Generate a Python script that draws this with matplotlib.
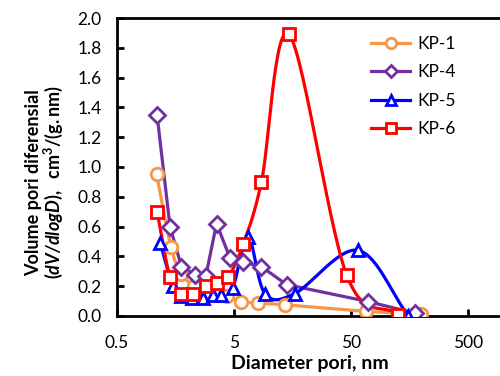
import numpy as np
import matplotlib
matplotlib.use("Agg")
import matplotlib.pyplot as plt
from matplotlib.ticker import FixedLocator, FormatStrFormatter

plt.rcParams['font.family'] = ['Lato', 'DejaVu Sans']
plt.rcParams['mathtext.fontset'] = 'custom'
plt.rcParams['mathtext.rm'] = 'Lato:bold'
plt.rcParams['mathtext.bf'] = 'Lato:bold'
plt.rcParams['mathtext.it'] = 'Lato:bold:italic'
plt.rcParams['mathtext.bfit'] = 'Lato:bold:italic'

# pore diameter (nm) and dV/dlogD values
kp1_d = [1.09, 1.45, 1.78, 2.3, 2.9, 3.6, 4.33, 5.8, 8.0, 13.8, 68, 200]
kp1_v = [0.95, 0.46, 0.28, 0.20, 0.16, 0.14, 0.13, 0.096, 0.085, 0.074, 0.03, 0.01]

kp4_d = [1.10, 1.42, 1.78, 2.32, 2.88, 3.55, 4.62, 6.0, 8.6, 14.1, 70, 177]
kp4_v = [1.35, 0.60, 0.33, 0.275, 0.27, 0.62, 0.39, 0.36, 0.33, 0.21, 0.096, 0.018]

kp5_d = [1.17, 1.5, 1.78, 2.2, 2.7, 3.3, 3.9, 4.9, 6.6, 9.2, 16.6, 57.5, 155]
kp5_v = [0.49, 0.20, 0.13, 0.12, 0.12, 0.14, 0.14, 0.19, 0.53, 0.15, 0.15, 0.44, 0.0]

kp6_d = [1.10, 1.42, 1.78, 2.24, 2.88, 3.6, 4.47, 6.0, 8.6, 14.8, 46, 127]
kp6_v = [0.70, 0.26, 0.15, 0.15, 0.20, 0.22, 0.26, 0.48, 0.90, 1.89, 0.275, 0.007]

labels = ['KP-1', 'KP-4', 'KP-5', 'KP-6']
colors = ['#F79646', '#7030A0', '#0000FF', '#FF0000']
markers = ['o', 'D', '^', 's']
smooth = [True, False, True, True]


def smooth_curve(d, v, n=30):
    # Catmull-Rom through the points, in log(d) space like an Excel smoothed line
    lx = np.log10(d)
    y = np.array(v, dtype=float)
    px = np.concatenate([[2 * lx[0] - lx[1]], lx, [2 * lx[-1] - lx[-2]]])
    py = np.concatenate([[2 * y[0] - y[1]], y, [2 * y[-1] - y[-2]]])
    xs, ys = [], []
    t = np.linspace(0, 1, n)
    for i in range(1, len(px) - 2):
        for arr, out in ((px, xs), (py, ys)):
            p0, p1, p2, p3 = arr[i - 1], arr[i], arr[i + 1], arr[i + 2]
            out.extend(0.5 * ((2 * p1) + (-p0 + p2) * t
                              + (2 * p0 - 5 * p1 + 4 * p2 - p3) * t ** 2
                              + (-p0 + 3 * p1 - 3 * p2 + p3) * t ** 3))
    return 10 ** np.array(xs), np.array(ys)


fig = plt.figure(figsize=(5.0, 3.76), dpi=100)
ax = fig.add_axes([0.234, 0.16, 0.772, 0.792])

series = [(kp1_d, kp1_v), (kp4_d, kp4_v), (kp5_d, kp5_v), (kp6_d, kp6_v)]
for (d, v), lab, c, m, sm in zip(series, labels, colors, markers, smooth):
    if sm:
        cx, cy = smooth_curve(d, v)
    else:
        cx, cy = d, v
    ms = 8 if m == 'D' else 9
    ax.plot(cx, cy, color=c, lw=2.3, zorder=2)
    ax.plot(d, v, ls='none', marker=m, ms=ms, mfc='white', mec=c, mew=2, zorder=3)
    ax.plot([], [], color=c, lw=2.3, marker=m, ms=ms - 1.5, mfc='white', mec=c,
            mew=2, label=lab)

ax.set_xscale('log')
ax.set_xlim(0.5, 1000)
ax.set_ylim(0, 2.0)
ax.xaxis.set_major_locator(FixedLocator([0.5, 5, 50, 500]))
ax.xaxis.set_minor_locator(FixedLocator([]))
ax.set_xticklabels(['0.5', '5', '50', '500'])
ax.set_yticks(np.arange(0, 2.01, 0.2))
ax.yaxis.set_major_formatter(FormatStrFormatter('%.1f'))
ax.tick_params(direction='in', length=5, width=2, labelsize=12.5)
ax.tick_params(axis='x', pad=14)
ax.tick_params(axis='y', pad=11)
for s in ax.spines.values():
    s.set_linewidth(2)

ax.set_xlabel('Diameter pori, nm', fontsize=14, fontweight='bold', labelpad=3)
fig.text(0.068, 0.513, 'Volume pori diferensial', rotation=90, ha='center',
         va='center', fontsize=13, fontweight='bold')
fig.text(0.107, 0.515, r'$(\mathbfit{dV/dlogD}),\ \ \mathrm{cm}^{3}\mathrm{/(g.nm)}$',
         rotation=90, ha='center', va='center', fontsize=13)

ax.legend(loc='upper left', bbox_to_anchor=(0.742, 0.905), bbox_transform=fig.transFigure,
          frameon=False, fontsize=12.5, handlelength=2.25, handletextpad=0.4,
          labelspacing=0.72, borderaxespad=0, borderpad=0)

fig.savefig('out.png', dpi=100)
